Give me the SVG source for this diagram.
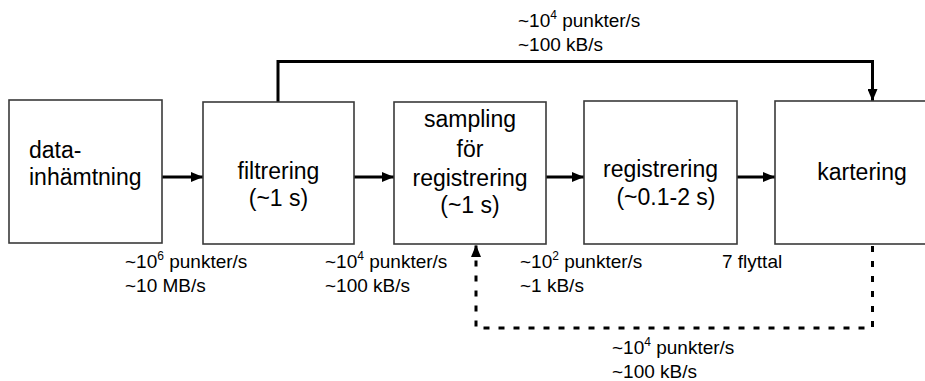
<svg xmlns="http://www.w3.org/2000/svg" width="925" height="381" viewBox="0 0 925 381">
<style>
.box{fill:#fff;stroke:#3a3a3a;stroke-width:1.6}
.big{font-family:"Liberation Sans",Arial,sans-serif;font-size:23px;fill:#000}
.mid{text-anchor:middle}
.lbl{font-family:"Liberation Sans",Arial,sans-serif;font-size:19px;fill:#000}
.sup{font-size:12px}
.conn{fill:none;stroke:#000;stroke-width:3}
.dash{fill:none;stroke:#000;stroke-width:3;stroke-dasharray:6 9}
</style>
<defs>
<marker id="ah" viewBox="0 0 12 10" refX="12" refY="5" markerWidth="12" markerHeight="10" markerUnits="userSpaceOnUse" orient="auto">
<path d="M0,0 L12,5 L0,10 Z" fill="#000"/>
</marker>
</defs>
<rect width="925" height="381" fill="#fff"/>
<g id="connectors">
<line class="conn" x1="162" y1="177" x2="203" y2="177" marker-end="url(#ah)"/>
<line class="conn" x1="354" y1="177" x2="394" y2="177" marker-end="url(#ah)"/>
<line class="conn" x1="546" y1="177" x2="584" y2="177" marker-end="url(#ah)"/>
<line class="conn" x1="737" y1="177" x2="775" y2="177" marker-end="url(#ah)"/>
<path class="conn" d="M278,102 V61.5 H872.5 V101" marker-end="url(#ah)"/>
<path class="dash" d="M872.5,246 V328 H476 V245" marker-end="url(#ah)"/>
</g>
<g id="datainhamtning">
<rect class="box" x="9" y="100" width="153" height="143"/>
<text class="big" x="29" y="158">data-</text>
<text class="big" x="29" y="185">inhämtning</text>
</g>
<g id="filtrering">
<rect class="box" x="203" y="102" width="151" height="142"/>
<text class="big mid" x="278.5" y="179">filtrering</text>
<text class="big mid" x="278.5" y="206">(~1 s)</text>
</g>
<g id="sampling">
<rect class="box" x="394" y="102" width="152" height="142"/>
<text class="big mid" x="470" y="127">sampling</text>
<text class="big mid" x="470" y="157">för</text>
<text class="big mid" x="470" y="186">registrering</text>
<text class="big mid" x="470" y="213">(~1 s)</text>
</g>
<g id="registrering">
<rect class="box" x="584" y="101" width="153" height="143"/>
<text class="big mid" x="660.5" y="177">registrering</text>
<text class="big mid" x="666" y="205">(~0.1-2 s)</text>
</g>
<g id="kartering">
<rect class="box" x="775" y="101" width="170" height="143"/>
<text class="big mid" x="862" y="180">kartering</text>
</g>
<g id="labels">
<text class="lbl" x="518" y="27">~10<tspan class="sup" dy="-8">4</tspan><tspan dy="8"> punkter/s</tspan></text>
<text class="lbl" x="518" y="51">~100 kB/s</text>
<text class="lbl" x="125" y="268">~10<tspan class="sup" dy="-8">6</tspan><tspan dy="8"> punkter/s</tspan></text>
<text class="lbl" x="125" y="292">~10 MB/s</text>
<text class="lbl" x="325" y="268">~10<tspan class="sup" dy="-8">4</tspan><tspan dy="8"> punkter/s</tspan></text>
<text class="lbl" x="325" y="292">~100 kB/s</text>
<text class="lbl" x="520" y="268">~10<tspan class="sup" dy="-8">2</tspan><tspan dy="8"> punkter/s</tspan></text>
<text class="lbl" x="520" y="292">~1 kB/s</text>
<text class="lbl" x="722" y="268">7 flyttal</text>
<text class="lbl" x="612" y="354">~10<tspan class="sup" dy="-8">4</tspan><tspan dy="8"> punkter/s</tspan></text>
<text class="lbl" x="612" y="378">~100 kB/s</text>
</g>
</svg>
